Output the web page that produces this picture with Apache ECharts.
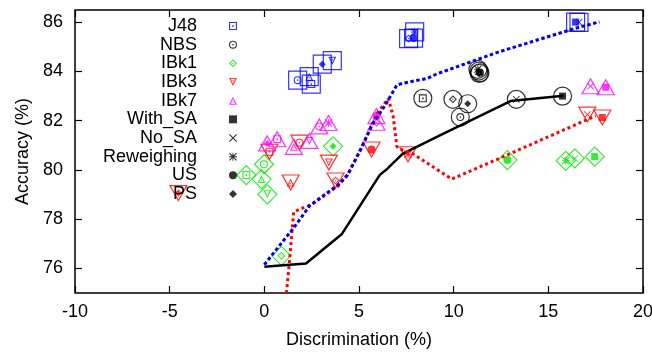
<!DOCTYPE html>
<html><head><meta charset="utf-8">
<script src="https://cdn.jsdelivr.net/npm/echarts@6/dist/echarts.min.js"></script>
<style>html,body{margin:0;padding:0;background:#fff}#c{width:652px;height:356px}</style>
</head><body><div id="c"></div>
<script>
// legend / inner marker names
const markerNames = ['J48','NBS','IBk1','IBk3','IBk7','With_SA','No_SA','Reweighing','US','PS'];
// points per learner: [discrimination, accuracy, inner marker]
const j48Points = [[1.76,83.65,'NBS'],[2.37,83.79,'IBk7'],[2.48,83.49,'J48'],[3.06,84.30,'PS'],[3.59,84.44,'IBk3'],[7.62,85.34,'IBk1'],[7.88,85.36,'US'],[7.94,85.61,'Reweighing'],[16.44,86.01,'With_SA'],[16.62,86.0,'No_SA']];
const nbsPoints = [[8.37,82.91,'J48'],[9.96,82.87,'IBk1'],[10.74,82.69,'PS'],[10.35,82.15,'NBS'],[11.28,84.09,'Reweighing'],[11.39,83.95,'US'],[11.33,84.02,'IBk7'],[11.35,83.92,'IBk3'],[13.31,82.87,'No_SA'],[15.75,83.0,'With_SA']];
const ibk1Points = [[-0.95,79.79,'J48'],[-0.02,80.23,'NBS'],[-0.15,79.63,'IBk7'],[0.16,79.01,'IBk3'],[0.9,76.51,'IBk1'],[3.63,80.96,'PS'],[12.84,80.40,'US'],[15.92,80.37,'Reweighing'],[16.4,80.47,'No_SA'],[17.45,80.54,'With_SA']];
const ibk3Points = [[0.27,80.74,'J48'],[1.85,81.11,'NBS'],[3.41,80.30,'IBk3'],[1.39,79.49,'IBk7'],[3.76,79.57,'IBk1'],[5.66,80.83,'US'],[7.59,80.64,'Reweighing'],[-4.54,79.06,'PS'],[17.06,82.25,'No_SA'],[17.85,82.13,'With_SA']];
const ibk7Points = [[0.15,81.08,'PS'],[0.68,81.25,'J48'],[2.90,81.77,'NBS'],[3.39,81.91,'Reweighing'],[1.56,80.94,'IBk7'],[2.38,81.18,'IBk3'],[5.92,82.19,'US'],[5.92,81.92,'IBk1'],[17.23,83.40,'No_SA'],[18.03,83.36,'With_SA']];
// curves
const curveBlue = [[0,76.15],[1.6,77.7],[2.4,78.55],[3.9,79.4],[4.4,79.8],[5.1,80.85],[5.7,81.85],[6.4,82.65],[7.0,83.45],[7.3,83.52],[8.6,83.72],[9.1,83.9],[10.2,84.2],[12.4,84.8],[14.5,85.3],[16.4,85.75],[17.7,86.02]];
const curveBlack = [[0,76.07],[2.2,76.2],[4.1,77.4],[6.1,79.8],[6.5,80.05],[7.3,80.65],[9.3,81.42],[13.0,82.8],[15.8,83.02]];
const curveRed = [[1.17,75.0],[1.34,76.4],[1.55,78.3],[2.5,78.6],[3.9,79.35],[4.4,79.8],[5.1,80.85],[5.7,81.85],[6.0,82.35],[6.55,82.9],[6.8,82.2],[7.0,80.95],[7.3,80.8],[7.8,80.68],[9.9,79.63],[12.8,80.6],[17.5,82.2]];
// ticks
const xTicks = [-10,-5,0,5,10,15,20];
const yTicks = [76,78,80,82,84,86];

const FONT = 'Liberation Sans, Arial, sans-serif';
const learners = [
  {name:'J48', pts:j48Points, color:'#0000ff', symbol:'rect', size:18, rotate:0},
  {name:'NBS', pts:nbsPoints, color:'#000000', symbol:'circle', size:18, rotate:0},
  {name:'IBk1', pts:ibk1Points, color:'#00e600', symbol:'diamond', size:19, rotate:0},
  {name:'IBk3', pts:ibk3Points, color:'#ff0000', symbol:'triangle', size:[17,15], rotate:180},
  {name:'IBk7', pts:ibk7Points, color:'#ff00ff', symbol:'triangle', size:[17,15], rotate:0}
];
const legendColor = {J48:'#0000ff',NBS:'#000',IBk1:'#00e600',IBk3:'#ff0000',IBk7:'#ff00ff',With_SA:'#000',No_SA:'#000',Reweighing:'#000',US:'#000',PS:'#000'};
const icons = {
  J48:'path://M0,0L10,0L10,10L0,10ZM1.4,1.4L1.4,8.6L8.6,8.6L8.6,1.4ZM4,4L6,4L6,6L4,6Z',
  NBS:'path://M0,5A5,5,0,1,1,10,5A5,5,0,1,1,0,5ZM1.4,5A3.6,3.6,0,1,0,8.6,5A3.6,3.6,0,1,0,1.4,5ZM4,5A1,1,0,1,1,6,5A1,1,0,1,1,4,5Z',
  IBk1:'path://M5,0L10,5L5,10L0,5ZM5,1.9L1.9,5L5,8.1L8.1,5ZM5,4L6,5L5,6L4,5Z',
  IBk3:'path://M0,0L10,0L5,10ZM2.2,1.3L5,7.1L7.8,1.3ZM4.3,2.9L5.7,2.9L5.7,4.3L4.3,4.3Z',
  IBk7:'path://M5,0L10,10L0,10ZM5,2.9L2.2,8.7L7.8,8.7ZM4.3,5.7L5.7,5.7L5.7,7.1L4.3,7.1Z',
  With_SA:'path://M0,0L10,0L10,10L0,10Z',
  No_SA:'path://M0,1L1,0L5,4L9,0L10,1L6,5L10,9L9,10L5,6L1,10L0,9L4,5Z',
  Reweighing:'path://M0,1L1,0L5,4L9,0L10,1L6,5L10,9L9,10L5,6L1,10L0,9L4,5ZM4.4,0L5.6,0L5.6,4.4L10,4.4L10,5.6L5.6,5.6L5.6,10L4.4,10L4.4,5.6L0,5.6L0,4.4L4.4,4.4Z',
  US:'path://M0,5A5,5,0,1,1,10,5A5,5,0,1,1,0,5Z',
  PS:'path://M5,0L10,5L5,10L0,5Z'
};
const legendIcons = Object.assign({}, icons, {PS:'path://M5,1.5L8.5,5L5,8.5L1.5,5Z'});
const innerSize = {J48:8,NBS:8,IBk1:8,IBk3:8,IBk7:8,With_SA:7,No_SA:7,Reweighing:8,US:8,PS:7};

const series = [];
learners.forEach(L => {
  series.push({
    type:'scatter', name:'outer_'+L.name, symbol:L.symbol, symbolSize:L.size, symbolRotate:L.rotate,
    itemStyle:{color:'transparent', borderColor:L.color, borderWidth:1.2},
    data:L.pts.map(p => [p[0], p[1]]), silent:true, z:2
  });
});
markerNames.forEach(m => {
  const data = [];
  learners.forEach(L => L.pts.forEach(p => { if (p[2] === m) data.push({value:[p[0],p[1]], itemStyle:{color:L.color}}); }));
  series.push({
    type:'scatter', name:m, symbol:icons[m], symbolSize:innerSize[m], symbolKeepAspect:true,
    itemStyle:{color:legendColor[m], borderWidth:0}, data, silent:true, z:3
  });
});
series.push({type:'line', name:'cBlack', data:curveBlack, showSymbol:false, symbol:'none', lineStyle:{color:'#000', width:2.5}, silent:true, z:4});
series.push({type:'line', name:'cRed', data:curveRed, showSymbol:false, symbol:'none', lineStyle:{color:'#ff0000', width:3, type:[3,3]}, silent:true, z:4});
series.push({type:'line', name:'cBlue', data:curveBlue, showSymbol:false, symbol:'none', lineStyle:{color:'#0000ee', width:3, type:[3.5,2.5]}, silent:true, z:4});

const axisText = {fontSize:18, fontFamily:FONT, color:'#000'};
const tickStyle = {show:true, inside:true, length:7, lineStyle:{color:'#000', width:1.2}};
const chart = echarts.init(document.getElementById('c'), null, {renderer:'canvas'});
chart.setOption({
  animation:false,
  backgroundColor:'#fff',
  grid:{left:75, right:9, top:10, bottom:63, show:true, borderColor:'#000', borderWidth:1.5, outerBoundsMode:'none', containLabel:false},
  legend:{
    orient:'vertical', align:'right', right:415, top:17, padding:0,
    itemWidth:62, itemHeight:8, itemGap:0.67, symbolKeepAspect:true, selectedMode:false,
    textStyle:{fontSize:18, fontFamily:FONT, color:'#000'},
    data:markerNames.map(n => ({name:n, icon:legendIcons[n]}))
  },
  xAxis:[
    {type:'value', min:-10, max:20, interval:5, position:'bottom',
     name:'Discrimination (%)', nameLocation:'middle', nameGap:38, nameTextStyle:axisText,
     axisLine:{show:false, onZero:false}, splitLine:{show:false},
     axisTick:Object.assign({customValues:xTicks}, tickStyle),
     axisLabel:{...axisText, margin:10, customValues:xTicks}},
    {type:'value', min:-10, max:20, interval:5, position:'top',
     axisLine:{show:false, onZero:false}, splitLine:{show:false}, axisLabel:{show:false},
     axisTick:Object.assign({customValues:xTicks}, tickStyle)}
  ],
  yAxis:[
    {type:'value', min:75, max:86.5, position:'left',
     name:'Accuracy (%)', nameLocation:'middle', nameGap:42, nameTextStyle:axisText,
     axisLine:{show:false, onZero:false}, splitLine:{show:false},
     axisTick:Object.assign({customValues:yTicks}, tickStyle),
     axisLabel:{...axisText, margin:12, customValues:yTicks}},
    {type:'value', min:75, max:86.5, position:'right',
     axisLine:{show:false, onZero:false}, splitLine:{show:false}, axisLabel:{show:false},
     axisTick:Object.assign({customValues:yTicks}, tickStyle)}
  ],
  series
});
</script></body></html>
